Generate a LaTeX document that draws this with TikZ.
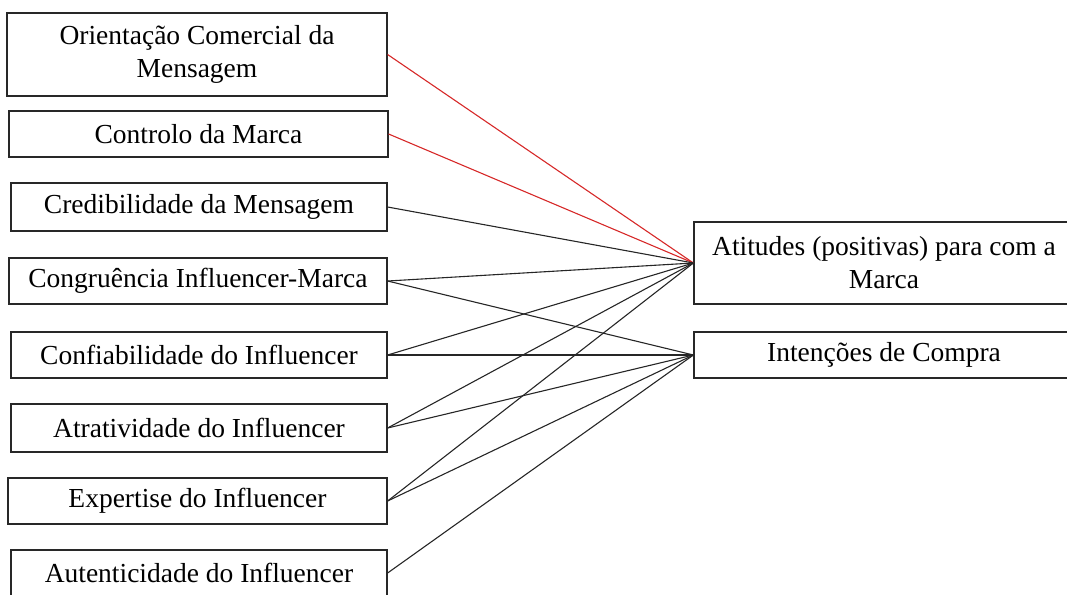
\documentclass[tikz,border=0pt]{standalone}
\usepackage{fontspec}
\setmainfont{Liberation Serif}
\definecolor{redline}{RGB}{214,40,40}
\definecolor{boxline}{RGB}{40,40,40}
\begin{document}
\begin{tikzpicture}[x=1pt,y=-1pt,
  box/.style={draw=boxline,line width=1.2pt,rectangle,inner sep=0pt,align=center,
    font=\fontsize{27.5}{33}\selectfont},
  link/.style={line width=1.1pt,draw=black!85},
  redlink/.style={line width=1.1pt,draw=redline}]
\useasboundingbox (0,0) rectangle (1067,594);
\clip (0,0) rectangle (1067,594);
\node[box,minimum width=380pt,minimum height=83pt] (o) at (197,54.5) {Orientação Comercial da\\Mensagem};
\node[box,minimum width=379pt,minimum height=46pt] (c) at (198.5,134) {Controlo da Marca};
\node[box,minimum width=376pt,minimum height=48pt] (cm) at (199,207) {Credibilidade da Mensagem};
\node[box,minimum width=378pt,minimum height=46pt] (ci) at (198,281) {Congruência Influencer-Marca};
\node[box,minimum width=376pt,minimum height=46pt] (cf) at (199,355) {Confiabilidade do Influencer};
\node[box,minimum width=376pt,minimum height=48pt] (at) at (199,428) {Atratividade do Influencer};
\node[box,minimum width=379pt,minimum height=46pt] (ex) at (197.5,501) {Expertise do Influencer};
\node[box,minimum width=376pt,minimum height=46pt] (au) at (199,573) {Autenticidade do Influencer};
\node[box,minimum width=380pt,minimum height=82pt] (A) at (884,263) {Atitudes (positivas) para com a\\Marca};
\node[box,minimum width=380pt,minimum height=46pt] (B) at (884,355) {Intenções de Compra};
\draw[redlink] (o.east) -- (A.west);
\draw[redlink] (c.east) -- (A.west);
\draw[link] (cm.east) -- (A.west);
\draw[link] (ci.east) -- (A.west);
\draw[link] (ci.east) -- (B.west);
\draw[link] (cf.east) -- (A.west);
\draw[link] (cf.east) -- (B.west);
\draw[link] (at.east) -- (A.west);
\draw[link] (at.east) -- (B.west);
\draw[link] (ex.east) -- (A.west);
\draw[link] (ex.east) -- (B.west);
\draw[link] (au.east) -- (B.west);
\end{tikzpicture}
\end{document}
